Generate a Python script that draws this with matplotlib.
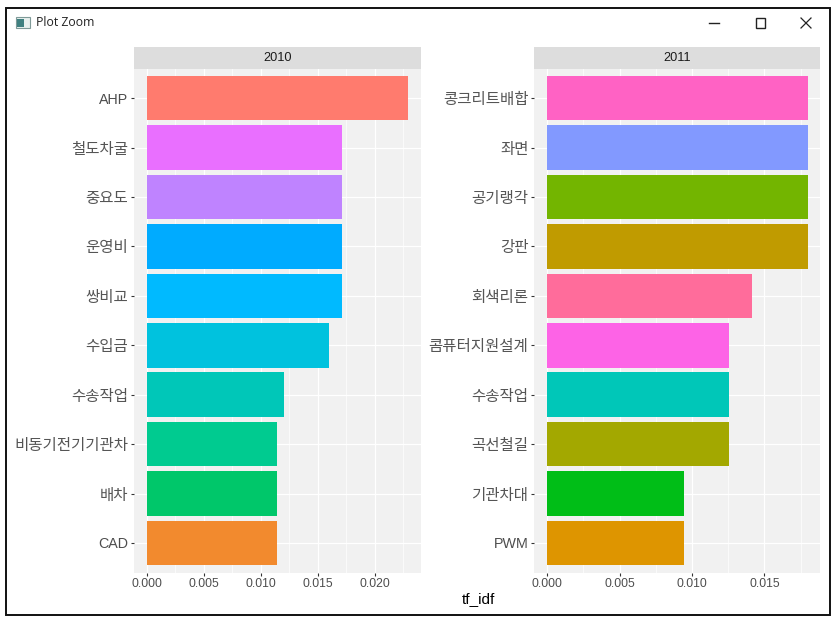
import matplotlib
matplotlib.use("Agg")
import matplotlib.pyplot as plt
from matplotlib.patches import Rectangle
from matplotlib.lines import Line2D

plt.rcParams['font.family'] = ['Liberation Sans', 'Noto Sans CJK KR']

# data, top bar first
years = ["2010", "2011"]
terms_2010 = ["AHP", "철도차굴", "중요도", "운영비", "쌍비교", "수입금", "수송작업", "비동기전기기관차", "배차", "CAD"]
tfidf_2010 = [0.0229, 0.0171, 0.0171, 0.0171, 0.0171, 0.0160, 0.0120, 0.0114, 0.0114, 0.0114]
colors_2010 = ["#FF7B6E", "#E96FFF", "#BF83FF", "#00ABFF", "#00BAFF", "#00C2DE", "#00C7B8", "#00CB90", "#00C76A", "#F28A2E"]
terms_2011 = ["콩크리트배합", "좌면", "공기랭각", "강판", "회색리론", "콤퓨터지원설계", "수송작업", "곡선철길", "기관차대", "PWM"]
tfidf_2011 = [0.0180, 0.0180, 0.0180, 0.0180, 0.01415, 0.01255, 0.01255, 0.01255, 0.00945, 0.00945]
colors_2011 = ["#FF62C4", "#8299FF", "#73B500", "#C09B00", "#FF6C9B", "#FD63E6", "#00C7B8", "#A3A800", "#00BE17", "#DE9500"]

W, H = 839, 620
fig = plt.figure(figsize=(W / 100, H / 100), dpi=100)


def fx(px):
    return px / W


def fy(py):
    return 1 - py / H


def panel(x0, x1, terms, values, colors, year, xlim, ticks):
    y0, y1 = 68.6, 572.6
    ax = fig.add_axes([fx(x0), fy(y1), fx(x1 - x0), (y1 - y0) / H])
    ax.set_facecolor("#F1F1F1")
    pos = list(range(len(terms), 0, -1))
    ax.barh(pos, values, height=0.9, color=colors, zorder=3)
    ax.set_xlim(xlim)
    ax.set_ylim(0.4, len(terms) + 0.6)
    ax.set_xticks(ticks)
    ax.set_xticklabels([f"{t:.3f}" for t in ticks], fontsize=8.7, color="#4D4D4D")
    ax.set_xticks([t + 0.0025 for t in ticks], minor=True)
    ax.set_yticks(pos)
    ax.set_yticklabels(terms, fontsize=10.3, color="#4D4D4D")
    # hangul runs wider than the latin labels in the original
    for lab in ax.get_yticklabels():
        if not lab.get_text().isascii():
            lab.set_fontsize(11.2)
            lab.set_color("#555555")
    ax.tick_params(axis="both", which="major", length=2.5, width=0.8, color="#333333", pad=1.5)
    ax.tick_params(axis="x", which="minor", length=0)
    ax.grid(True, which="major", color="white", lw=0.9, zorder=1)
    ax.grid(True, which="minor", axis="x", color="white", lw=0.5, zorder=1)
    for s in ax.spines.values():
        s.set_visible(False)
    # facet strip
    fig.add_artist(Rectangle((fx(x0), fy(69)), fx(x1 - x0), 22 / H, transform=fig.transFigure,
                             facecolor="#DDDDDD", edgecolor="none"))
    fig.text(fx((x0 + x1) / 2 + 0.5), fy(58), year, ha="center", va="center", fontsize=9.2, color="#1A1A1A")
    return ax


panel(134, 421, terms_2010, tfidf_2010, colors_2010, years[0], (-0.00114, 0.02404),
      [0.000, 0.005, 0.010, 0.015, 0.020])
panel(534, 820, terms_2011, tfidf_2011, colors_2011, years[1], (-0.0009, 0.01883),
      [0.000, 0.005, 0.010, 0.015])

fig.text(fx(478), fy(599), "tf_idf", ha="center", va="center", fontsize=11, color="black")

# window frame around the plot
fig.add_artist(Rectangle((fx(6), fy(615)), fx(824), 607 / H, transform=fig.transFigure,
                         facecolor="none", edgecolor="#111111", lw=1.4))
fig.text(fx(36), fy(23), "Plot Zoom", ha="left", va="center", fontsize=8.8, color="#222222",
         family=["Open Sans", "DejaVu Sans"])

# title bar icon
fig.add_artist(Rectangle((fx(15.5), fy(28)), fx(14), 11 / H, transform=fig.transFigure,
                         facecolor="#E8F0EE", edgecolor="#7F9A98", lw=0.8))
fig.add_artist(Rectangle((fx(17), fy(27)), fx(7), 8 / H, transform=fig.transFigure,
                         facecolor="#3F8080", edgecolor="none"))

# window buttons
fig.add_artist(Line2D([fx(709), fx(719)], [fy(23), fy(23)], color="#222222", lw=1))
fig.add_artist(Rectangle((fx(755.5), fy(28)), fx(9.5), 9.5 / H, transform=fig.transFigure,
                         facecolor="none", edgecolor="#222222", lw=1))
fig.add_artist(Line2D([fx(801), fx(811)], [fy(18), fy(28)], color="#222222", lw=0.9))
fig.add_artist(Line2D([fx(801), fx(811)], [fy(28), fy(18)], color="#222222", lw=0.9))

fig.savefig("out.png", dpi=100)
